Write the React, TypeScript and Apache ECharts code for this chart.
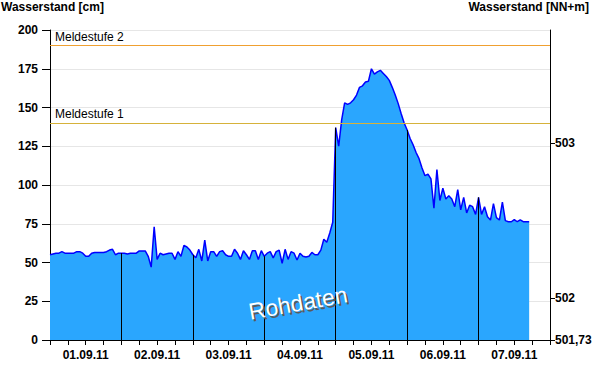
import React, { useEffect, useRef } from "react";
import * as echarts from "echarts";

// Hourly water level readings [cm], starting 01.09.11 00:00
const levels: number[] = [
  // 01.09
  55, 55.5, 56, 56, 57, 56, 56, 56, 56, 57, 57, 56, 54, 54, 56, 56.5, 56.5, 56.5, 56.5, 57, 58, 58.5, 55, 56,
  // 02.09
  56, 56, 55.5, 56, 56, 56, 57.5, 57.5, 57.5, 54, 47, 73, 52, 56, 55, 55.5, 56, 56, 52, 57, 54, 61, 60, 58,
  // 03.09
  55, 53, 58.5, 51, 64.5, 51, 57, 57, 54, 57, 57.6, 55, 54, 54, 58.5, 56, 52, 57.6, 55, 52, 57.6, 57.6, 52, 57.6,
  // 04.09
  54, 56, 57, 53, 57, 58, 49.5, 58.5, 52, 57, 56, 51.6, 56, 54, 53.5, 54, 56.5, 55, 55, 58, 65, 63, 69, 76,
  // 05.09
  137, 125, 142, 153, 152, 153, 155, 158, 163, 164, 166.5, 167, 175, 171.5, 173, 174, 172, 170, 167.5, 163, 158, 152.5, 146, 140,
  // 06.09
  135.5, 130, 126, 121, 117, 111, 106, 107, 104, 85, 110, 90, 98, 91, 93, 91, 86, 97, 84, 92, 82, 87, 86, 81,
  // 07.09
  92, 81, 86, 79.5, 77.4, 88, 79, 77.4, 89, 77, 76.3, 76.3, 77.7, 76.3, 77.5, 76.3, 76.3, 76.3,
];

const dateLabels: string[] = ["01.09.11", "02.09.11", "03.09.11", "04.09.11", "05.09.11", "06.09.11", "07.09.11"];
const midnightHours: number[] = [24, 48, 72, 96, 120, 144];
const thresholdNames: string[] = ["Meldestufe 1", "Meldestufe 2"];
const thresholdValues: number[] = [140, 190];
const rightTickValues: number[] = [501.73, 502, 503];
const leftTitle = "Wasserstand [cm]";
const rightTitle = "Wasserstand [NN+m]";
const watermark = "Rohdaten";

const FONT = "'Liberation Sans', Arial, sans-serif";
const thresholdColors = ["#d6b23a", "#f0a030"];

export default function App() {
  const ref = useRef<HTMLDivElement>(null);

  useEffect(() => {
    if (!ref.current) return;
    const chart = echarts.init(ref.current, undefined, { renderer: "svg" });

    const seriesData = levels.map((v, i) => [i, v]);

    const thresholdLines = thresholdValues.map((v, i) => ({
      yAxis: v,
      name: thresholdNames[i],
      lineStyle: { color: thresholdColors[i], width: 1, type: "solid" },
      label: {
        show: true,
        position: "insideStartTop",
        formatter: "{b}",
        color: "#000",
        fontSize: 12,
        fontFamily: FONT,
        distance: [5, 3],
      },
    }));

    const dayLines = midnightHours.map((h) => [
      {
        coord: [h, 0],
        lineStyle: { color: "#000", width: 1, type: "solid" },
        label: { show: false },
      },
      { coord: [h, levels[h]] },
    ]);

    const option: any = {
      animation: false,
      textStyle: { fontFamily: FONT },
      grid: { left: 50, right: 50, top: 30, bottom: 44 },
      xAxis: {
        type: "value",
        min: 0,
        max: 168,
        interval: 6,
        axisLine: { show: true, onZero: false, lineStyle: { color: "#000", width: 1 } },
        axisTick: { show: true, length: 5, lineStyle: { color: "#000" } },
        axisLabel: {
          color: "#000",
          fontWeight: "bold",
          fontSize: 12,
          fontFamily: FONT,
          margin: 9,
          formatter: (v: number) => (v % 24 === 12 ? dateLabels[(v - 12) / 24] || "" : ""),
        },
        splitLine: { show: false },
      },
      yAxis: [
        {
          type: "value",
          min: 0,
          max: 200,
          interval: 25,
          position: "left",
          axisLine: { show: true, lineStyle: { color: "#000", width: 1 } },
          axisTick: { show: true, length: 8, lineStyle: { color: "#000" } },
          axisLabel: { color: "#000", fontWeight: "bold", fontSize: 12, fontFamily: FONT, margin: 12 },
          splitLine: { show: true, lineStyle: { color: "#e6e6e6", width: 1 } },
        },
        {
          type: "value",
          min: 501.73,
          max: 503.73,
          position: "right",
          axisLine: { show: true, lineStyle: { color: "#000", width: 1 } },
          axisTick: { show: true, length: 5, lineStyle: { color: "#000" }, customValues: rightTickValues },
          axisLabel: {
            color: "#000",
            fontWeight: "bold",
            fontSize: 12,
            fontFamily: FONT,
            margin: 5,
            customValues: rightTickValues,
            formatter: (v: number) => String(v).replace(".", ","),
          },
          splitLine: { show: false },
        },
      ],
      series: [
        {
          type: "line",
          yAxisIndex: 0,
          data: seriesData,
          symbol: "none",
          showSymbol: false,
          lineStyle: { color: "#0000ff", width: 1.5 },
          areaStyle: { color: "#2aa6fe", opacity: 1 },
          markLine: {
            silent: true,
            symbol: ["none", "none"],
            animation: false,
            data: [...thresholdLines, ...dayLines],
          },
        },
      ],
      graphic: [
        {
          type: "text",
          left: 1,
          top: 1,
          z: 100,
          style: { text: leftTitle, font: `bold 12px ${FONT}`, fill: "#000" },
        },
        {
          type: "text",
          right: 11,
          top: 1,
          z: 100,
          style: { text: rightTitle, font: `bold 12px ${FONT}`, fill: "#000" },
        },
        {
          type: "text",
          x: 300,
          y: 305,
          rotation: 0.18,
          z: 100,
          style: {
            text: watermark,
            font: `23px ${FONT}`,
            fill: "#5a5a5a",
            align: "center",
            verticalAlign: "middle",
            textAlign: "center",
            textVerticalAlign: "middle",
          },
        },
        {
          type: "text",
          x: 298,
          y: 303,
          rotation: 0.18,
          z: 101,
          style: {
            text: watermark,
            font: `23px ${FONT}`,
            fill: "#ffffff",
            align: "center",
            verticalAlign: "middle",
            textAlign: "center",
            textVerticalAlign: "middle",
          },
        },
      ],
    };

    chart.setOption(option);
    return () => chart.dispose();
  }, []);

  return (
    <div
      ref={ref}
      style={{ position: "fixed", left: 0, top: 0, width: 600, height: 384, background: "#fff" }}
    />
  );
}
